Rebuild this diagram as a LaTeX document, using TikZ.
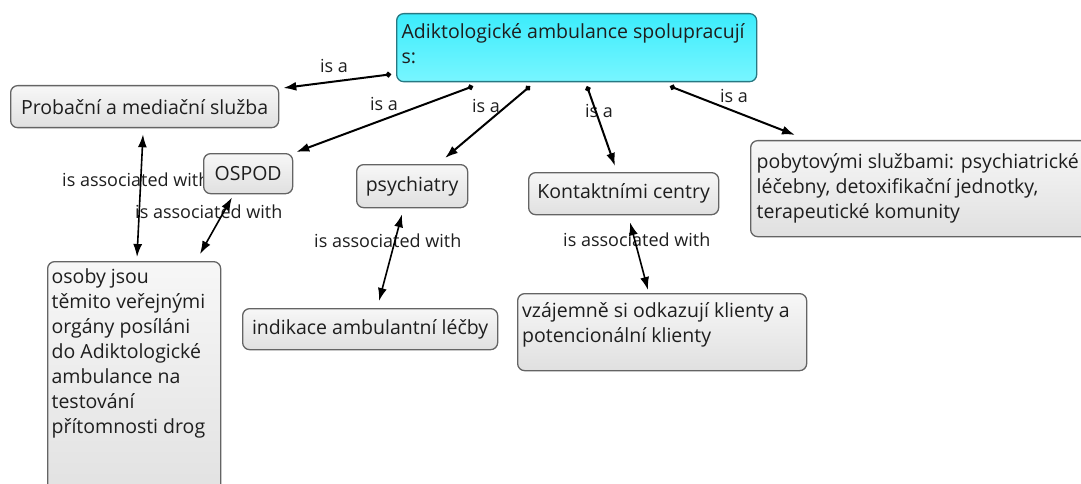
\documentclass[tikz,border=0pt]{standalone}
\usepackage{fontspec}
\setmainfont{Open Sans}
\usetikzlibrary{arrows.meta,calc}
\definecolor{boxline}{RGB}{100,100,100}
\definecolor{boxtop}{RGB}{247,247,247}
\definecolor{boxbot}{RGB}{224,224,224}
\definecolor{cyantop}{RGB}{60,236,252}
\definecolor{cyanbot}{RGB}{120,246,255}
\definecolor{cyanline}{RGB}{40,120,130}
\definecolor{txt}{RGB}{30,30,30}
\begin{document}
\begin{tikzpicture}[x=1pt,y=-1pt,
  box/.style={draw=boxline, line width=1.3pt, rounded corners=7pt,
    top color=boxtop, bottom color=boxbot, text=txt,
    font=\fontsize{19.5}{25}\selectfont, anchor=north west, inner sep=0pt},
  mainbox/.style={box, draw=cyanline, top color=cyantop, bottom color=cyanbot},
  lbl/.style={font=\fontsize{18}{20}\selectfont, text=txt, inner sep=0pt},
  isa/.style={line width=2pt, {Circle[length=5.5pt]}-{Latex[length=13pt,width=9pt]}},
  assoc/.style={line width=1.6pt, {Latex[length=13pt,width=9pt]}-{Latex[length=13pt,width=9pt]}}
]
\useasboundingbox (0,0) rectangle (1081,484);

% labels (drawn first so boxes and lines lie over them)
\node[lbl] (l1) at (334,66) {is a};
\node[lbl] (l2) at (384,104) {is a};
\node[lbl] (l3) at (486,106) {is a};
\node[lbl] (l4) at (599,111) {is a};
\node[lbl] (l5) at (734,96) {is a};
\node[lbl, anchor=west] (l6) at (62,180) {is associated with};
\node[lbl, anchor=west] (l7) at (135,212) {is associated with};
\node[lbl, anchor=west] (l8) at (314,241) {is associated with};
\node[lbl, anchor=west] (l9) at (563,240) {is associated with};

% boxes
\node[mainbox, minimum width=360pt, minimum height=68pt] (main) at (396,13)
  {\parbox[c][62pt][t]{354pt}{\raggedright\rule{0pt}{22pt}\hspace*{2pt}Adiktologické ambulance spolupracují\\\hspace*{2pt}s:}};
\node[box, minimum width=268pt, minimum height=42pt] (prob) at (10,85) {Probační a mediační služba};
\node[box, minimum width=89pt, minimum height=40pt] (ospod) at (203,153) {OSPOD};
\node[box, minimum width=111pt, minimum height=43pt] (psy) at (356,164) {psychiatry};
\node[box, minimum width=190pt, minimum height=42pt] (kont) at (528,172) {Kontaktními centry};
\node[box, minimum width=350pt, minimum height=96pt] (pob) at (750,140)
  {\parbox{338pt}{\raggedright pobytovými službami: psychiatrické\\léčebny, detoxifikační jednotky,\\terapeutické komunity}};
\node[box, minimum width=173pt, minimum height=250pt] (osoby) at (47,261)
  {\parbox[c][244pt][t]{165pt}{\raggedright\rule{0pt}{19pt}osoby jsou\\těmito veřejnými\\orgány posíláni\\do Adiktologické\\ambulance na\\testování\\přítomnosti drog}};
\node[box, minimum width=289pt, minimum height=77pt] (vzaj) at (517,293)
  {\parbox[c][70pt][t]{280pt}{\raggedright\rule{0pt}{20pt}vzájemně si odkazují klienty a\\potencionální klienty}};
\node[box, minimum width=255pt, minimum height=41pt] (indik) at (242,308) {indikace ambulantní léčby};

% "is a" links
\draw[isa] ($(main.south west)+(-5,-8)$) -- ($(prob.north east)+(4,3)$);
\draw[isa] ($(main.south west)+(77,4)$) -- ($(ospod.north east)+(3,-1)$);
\draw[isa] ($(main.south west)+(134,4)$) -- ($(psy.north west)+(89,-6)$);
\draw[isa] ($(main.south west)+(191,4)$) -- ($(kont.north west)+(87,-6)$);
\draw[isa] ($(main.south west)+(274,4)$) -- ($(pob.north west)+(45,-5)$);

% "is associated with" links
\draw[assoc] ($(prob.south west)+(133,6)$) -- ($(osoby.north west)+(90,-4)$);
\draw[assoc] ($(ospod.south west)+(29,3)$) -- ($(osoby.north west)+(153,-7)$);
\draw[assoc] ($(psy.south west)+(46,6)$) -- ($(indik.north west)+(137,-7)$);
\draw[assoc] ($(kont.south west)+(102,7)$) -- ($(vzaj.north west)+(131,-3)$);
\end{tikzpicture}
\end{document}
